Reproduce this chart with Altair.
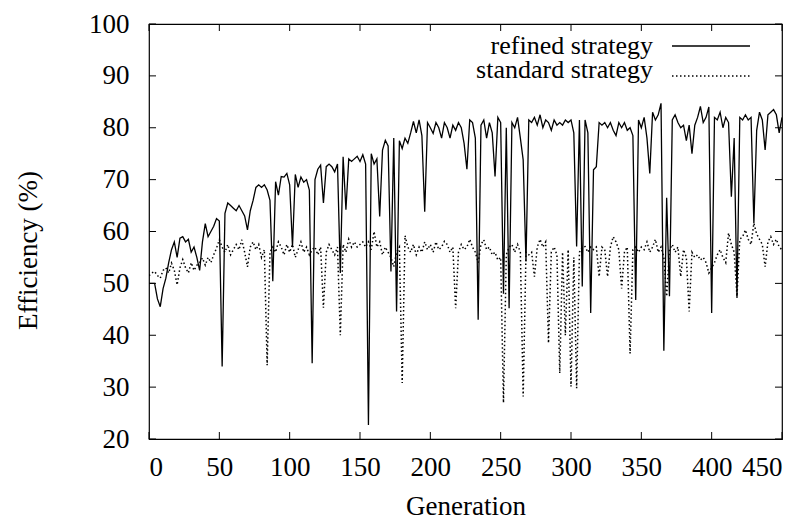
import altair as alt
import pandas as pd

# Generations sampled every 2 steps, 0..450
generations = list(range(0, 451, 2))

# Efficiency (%) of the refined strategy, one value per sampled generation
refined = [
    50, 50, 50, 47, 45.5, 49, 51, 54, 56.5, 58, 55, 58.7, 59, 58, 58.5, 56, 57, 55, 52.5, 58, 61.5, 59, 60, 61, 62.5,
    62, 34, 63.5, 65.5, 65, 64.5, 64, 65, 64, 63, 60.3, 64, 66, 68.5, 69, 68.5, 69, 68, 66, 50.4, 69.6, 67, 70.6, 70.5, 71.2,
    69, 57.1, 71, 68.5, 70.5, 69.5, 70, 68, 34.6, 70, 72, 72.8, 65.5, 72.5, 73, 72.5, 71.5, 73, 52, 74.4, 64.2, 74, 73.5, 74, 74.5,
    73.5, 74.8, 73, 22.7, 75, 73, 74, 62.9, 75.7, 77.6, 76.5, 52.3, 78, 44.6, 77.5, 76, 78, 77, 79, 81.2, 79, 81.5, 78.5, 63.8, 81,
    80, 78.9, 81, 80, 78, 81, 80, 78, 80.5, 79.5, 81, 80, 77, 72, 81.5, 81, 78, 43, 80.5, 81.5, 78, 81, 79, 70.6, 82,
    81, 48, 80, 45.2, 81, 80, 82, 78, 73.8, 54.2, 81.5, 81, 82, 80.5, 82.5, 80, 81.5, 81, 79.5, 81.5, 80.5, 81, 80.5, 81.5, 81,
    81.5, 79, 57.1, 81.5, 49.4, 81.5, 79, 44.3, 71.9, 72.5, 81, 80.5, 81, 80, 81, 79.5, 78.5, 81, 80, 81, 79.5, 80, 78.5, 46.8, 81.5,
    80, 82, 78, 71.2, 83, 81.5, 82.5, 84.7, 37, 66.5, 47.5, 81.5, 82.5, 81, 80, 80.5, 77.5, 80.5, 75, 80.5, 82, 84.1, 81, 82, 84,
    44.3, 82, 81.5, 83, 80, 82, 81, 66.7, 78, 47.2, 82, 81.5, 82.5, 81.5, 82, 61.6, 79.5, 83, 81.5, 75.7, 82.5, 83, 83.5, 82.5, 79,
    82,
]

# Efficiency (%) of the standard strategy, same generations
standard = [
    51.5, 52, 52.3, 51.5, 51, 52.5, 53, 52, 53.9, 52.5, 49.7, 53, 54.6, 53, 52, 54, 52.5, 53.5, 54, 54.9, 53.5, 55, 54, 55.5, 56.8,
    58.4, 57, 56, 57.5, 55.5, 56.5, 57.5, 56.5, 58.4, 56, 53.2, 57, 58, 56.5, 57.5, 55, 56.5, 34.2, 56, 57, 56, 58, 57, 55.5, 57.5,
    56, 57.5, 55, 56.5, 58, 56, 57, 55.5, 56.5, 57, 55.5, 57, 45.3, 56, 57.5, 56.5, 55.5, 57, 40, 57.5, 56, 58.5, 57, 58, 57,
    57.5, 58, 57, 58, 56.5, 60, 57, 58, 55.5, 57, 56, 55, 53.2, 56, 57, 30.8, 59.2, 57, 56, 57.5, 55.5, 57, 56, 58, 56.5,
    57.5, 56, 58, 56.5, 57, 58.1, 57.5, 56, 57, 45.2, 56, 57.5, 56.5, 57, 58.5, 57, 56, 54, 57.5, 58.4, 56.5, 57, 55.5, 56, 54.5,
    55, 27, 55.5, 57, 57.5, 56, 57.5, 56, 28.2, 56, 55.5, 56, 51.3, 57, 58.5, 57, 58, 38.5, 56, 57, 55.5, 32.7, 56, 40, 56.5,
    30.1, 55, 29.8, 56, 57, 57.1, 56, 57, 56.5, 57, 51.3, 57, 56.5, 51.3, 57, 59, 58, 56.5, 49, 56, 57, 36.5, 56.5, 57, 56,
    57, 56.5, 58, 56, 57, 58.5, 56, 57, 55, 47.5, 56.5, 57.5, 56, 57, 51.3, 56.5, 55, 44.6, 56, 55, 55.5, 54.5, 55, 54, 52,
    53, 54, 55.5, 56.5, 55, 54, 59.7, 57.5, 56, 47.5, 58.5, 59, 60.3, 58.5, 57.5, 61.6, 59.5, 58.5, 57.5, 53.2, 58, 59, 57.5, 58.5, 57,
    56.5,
]

x_ticks = [0, 50, 100, 150, 200, 250, 300, 350, 400, 450]
y_ticks = [20, 30, 40, 50, 60, 70, 80, 90, 100]
series_names = ["refined strategy", "standard strategy"]

W, H = 633, 415
FONT = "'Liberation Serif', 'Times New Roman', 'DejaVu Serif', serif"
DOTS = [1.5, 2.5]

data = pd.DataFrame({"generation": generations, "refined": refined, "standard": standard})

x_scale = alt.Scale(domain=[0, 450], nice=False, zero=False)
y_scale = alt.Scale(domain=[20, 100], nice=False, zero=False)

x_axis = alt.Axis(
    values=x_ticks, title="Generation", grid=False, domain=False, ticks=False, tickSize=0,
    labelFont=FONT, labelFontSize=27, labelColor="black", labelPadding=15,
    titleFont=FONT, titleFontSize=27, titleFontWeight="normal", titleColor="black",
    titleY=75, titleBaseline="alphabetic",
)
y_axis = alt.Axis(
    values=y_ticks, title="Efficiency (%)", grid=False, domain=False, ticks=False, tickSize=0,
    labelFont=FONT, labelFontSize=27, labelColor="black", labelPadding=20,
    titleFont=FONT, titleFontSize=27, titleFontWeight="normal", titleColor="black",
    titleX=-121, titleY=226, titleAngle=270, titleAlign="center", titleBaseline="middle",
)

base = alt.Chart(data)

refined_line = base.mark_line(color="black", strokeWidth=1.3, clip=True).encode(
    x=alt.X("generation:Q", scale=x_scale, axis=x_axis),
    y=alt.Y("refined:Q", scale=y_scale, axis=y_axis),
)
standard_line = base.mark_line(color="black", strokeWidth=1.5, strokeDash=DOTS, clip=True).encode(
    x=alt.X("generation:Q", scale=x_scale),
    y=alt.Y("standard:Q", scale=y_scale),
)

# inward tick marks on all four sides
xt = pd.DataFrame({"t": x_ticks})
yt = pd.DataFrame({"t": y_ticks})
tick_style = dict(color="black", strokeWidth=1)
x_ticks_bottom = alt.Chart(xt).mark_rule(**tick_style).encode(
    x=alt.X("t:Q", scale=x_scale), y=alt.value(H), y2=alt.value(H - 7))
x_ticks_top = alt.Chart(xt).mark_rule(**tick_style).encode(
    x=alt.X("t:Q", scale=x_scale), y=alt.value(0), y2=alt.value(7))
y_ticks_left = alt.Chart(yt).mark_rule(**tick_style).encode(
    y=alt.Y("t:Q", scale=y_scale), x=alt.value(0), x2=alt.value(7))
y_ticks_right = alt.Chart(yt).mark_rule(**tick_style).encode(
    y=alt.Y("t:Q", scale=y_scale), x=alt.value(W), x2=alt.value(W - 7))

# key in the upper right corner
key_refined_text = alt.Chart(pd.DataFrame({"label": [series_names[0]]})).mark_text(
    font=FONT, fontSize=26, align="right", baseline="alphabetic", color="black"
).encode(text="label:N", x=alt.value(504), y=alt.value(30))
key_standard_text = alt.Chart(pd.DataFrame({"label": [series_names[1]]})).mark_text(
    font=FONT, fontSize=26, align="right", baseline="alphabetic", color="black"
).encode(text="label:N", x=alt.value(504), y=alt.value(54))
key_refined_line = alt.Chart(pd.DataFrame({"label": [series_names[0]]})).mark_rule(
    color="black", strokeWidth=1.3
).encode(x=alt.value(523), x2=alt.value(601), y=alt.value(22))
key_standard_line = alt.Chart(pd.DataFrame({"label": [series_names[1]]})).mark_rule(
    color="black", strokeWidth=1.5, strokeDash=DOTS
).encode(x=alt.value(523), x2=alt.value(601), y=alt.value(52))

chart = alt.layer(
    standard_line, refined_line,
    x_ticks_bottom, x_ticks_top, y_ticks_left, y_ticks_right,
    key_refined_text, key_standard_text, key_refined_line, key_standard_line,
).properties(
    width=W, height=H,
    padding={"left": 149, "top": 24, "right": 25, "bottom": 85},
    autosize="none",
    background="white",
).configure_view(stroke="black", strokeWidth=1.2)

chart.save("out.html", embed_options={"renderer": "svg", "actions": False})
